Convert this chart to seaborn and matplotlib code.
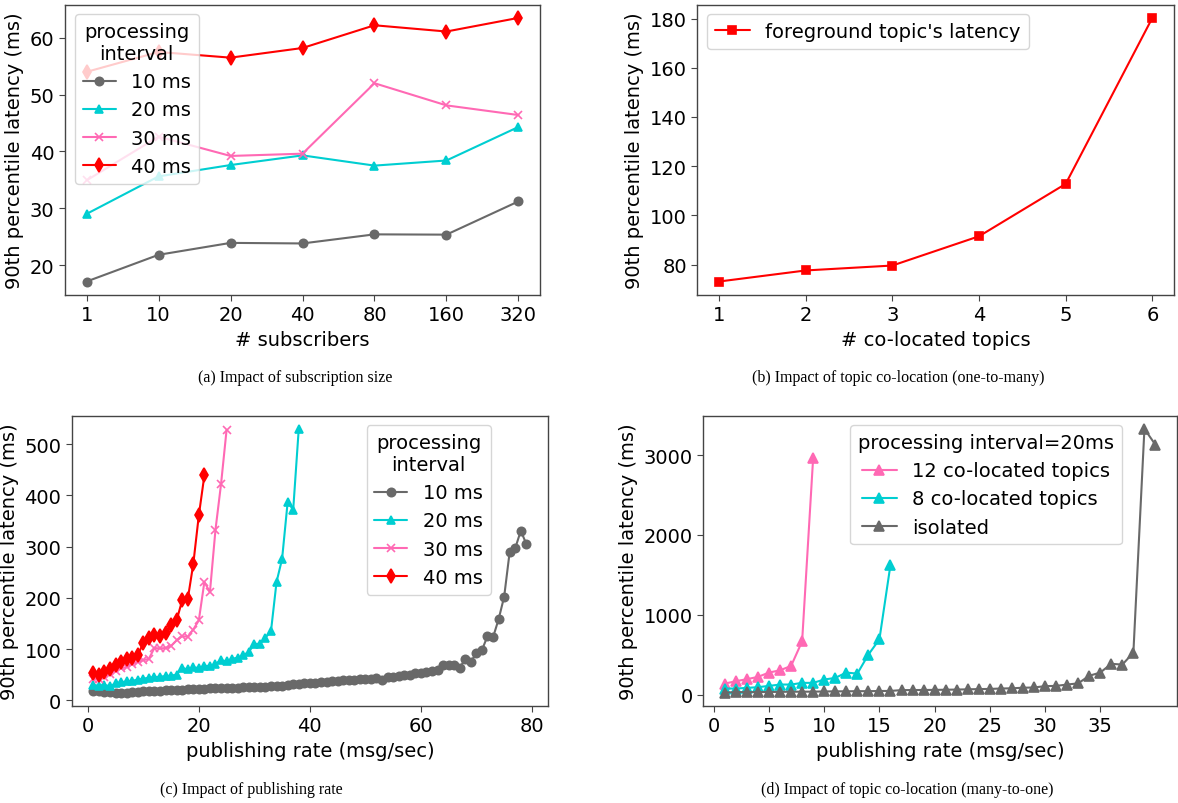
import numpy as np
import pandas as pd
import matplotlib
matplotlib.use("Agg")
import matplotlib.pyplot as plt
import seaborn as sns

sns.set_style("ticks")
plt.rcParams['font.family'] = ['DejaVu Sans']
plt.rcParams['font.size'] = 14
plt.rcParams['axes.edgecolor'] = '#444444'
plt.rcParams['xtick.color'] = '#444444'
plt.rcParams['ytick.color'] = '#444444'
plt.rcParams['xtick.labelcolor'] = 'black'
plt.rcParams['ytick.labelcolor'] = 'black'
plt.rcParams['axes.labelcolor'] = 'black'
plt.rcParams['text.color'] = 'black'

# ---------------- data ----------------
# (a) subscription size
subscribers = ["1", "10", "20", "40", "80", "160", "320"]
a_10ms = [17.1, 21.8, 23.9, 23.8, 25.4, 25.35, 31.2]
a_20ms = [29.0, 35.6, 37.6, 39.3, 37.5, 38.4, 44.3]
a_30ms = [34.9, 42.6, 39.2, 39.6, 52.0, 48.1, 46.4]
a_40ms = [54.0, 57.5, 56.5, 58.2, 62.2, 61.1, 63.5]

# (b) topic co-location (one-to-many)
colocated = [1, 2, 3, 4, 5, 6]
b_latency = [73.1, 77.6, 79.6, 91.5, 112.8, 180.3]

# (c) publishing rate
c_10ms = [17, 17, 16, 16, 15, 15, 15, 16, 16, 17, 17, 18, 18, 19, 19, 20, 20, 21, 22, 22,
          22, 23, 23, 23, 24, 24, 24, 25, 25, 25, 26, 26, 27, 27, 28, 30, 31, 32, 33, 34,
          34, 35, 36, 37, 38, 39, 40, 40, 41, 42, 42, 44, 40, 45, 46, 47, 49, 50, 53, 54,
          56, 57, 59, 68, 68, 68, 63, 81, 75, 92, 98, 125, 123, 158, 202, 290, 297, 331, 305]
c_20ms = [30, 28, 30, 27, 33, 35, 37, 38, 40, 42, 44, 45, 46, 47, 48, 50, 63, 60, 64, 63,
          67, 67, 71, 78, 76, 81, 83, 88, 94, 110, 110, 122, 135, 231, 276, 387, 372, 530]
c_30ms = [42, 41, 46, 52, 58, 62, 65, 70, 75, 78, 81, 102, 101, 102, 106, 117, 125, 124,
          138, 156, 231, 211, 333, 422, 528]
c_40ms = [54, 49, 56, 60, 68, 75, 81, 83, 88, 112, 122, 127, 125, 132, 146, 156, 195, 197,
          266, 361, 439]
rate_10 = list(range(1, 80))
rate_20 = list(range(1, 39))
rate_30 = list(range(1, 26))
rate_40 = list(range(1, 22))

# (d) topic co-location (many-to-one)
d_12topics = [137, 167, 192, 221, 275, 304, 358, 667, 2970]
d_8topics = [75, 75, 83, 92, 108, 125, 125, 146, 146, 188, 208, 275, 262, 500, 692, 1625]
d_isolated = [25, 30, 30, 30, 32, 33, 35, 35, 36, 38, 40, 40, 42, 42, 44, 45, 55, 56, 57, 58,
              60, 62, 65, 68, 70, 75, 78, 85, 88, 105, 108, 125, 140, 235, 275, 385, 375, 525,
              3330, 3130]
rate_d12 = list(range(1, 10))
rate_d8 = list(range(1, 17))
rate_diso = list(range(1, 41))

GRAY = '#696969'
CYAN = '#00CED1'
PINK = '#FF69B4'
RED = '#FF0000'

W, H = 1178, 804
fig = plt.figure(figsize=(W / 100, H / 100), dpi=100)


def add_ax(l, t, r, b):
    return fig.add_axes([l / W, 1 - b / H, (r - l) / W, (b - t) / H])


def line(ax, x, y, color, marker, label, ms=6):
    sns.lineplot(x=x, y=y, ax=ax, color=color, marker=marker, label=label,
                 markersize=ms, markeredgecolor=color, markeredgewidth=1.2,
                 linewidth=1.5, estimator=None, sort=False)


ax_a = add_ax(65, 5.7, 540, 295.7)
ax_b = add_ax(697.4, 5.7, 1174, 295.7)
ax_c = add_ax(71.7, 416.7, 548, 706.7)
ax_d = add_ax(703.3, 416.7, 1177, 706.7)

# (a)
pos = np.arange(len(subscribers))
line(ax_a, pos, a_10ms, GRAY, 'o', '10 ms')
line(ax_a, pos, a_20ms, CYAN, '^', '20 ms')
line(ax_a, pos, a_30ms, PINK, 'x', '30 ms')
line(ax_a, pos, a_40ms, RED, 'd', '40 ms', ms=7)
ax_a.set_xticks(pos)
ax_a.set_xticklabels(subscribers)
ax_a.set_yticks([20, 30, 40, 50, 60])
ax_a.set_xlabel('# subscribers')
ax_a.set_ylabel('90th percentile latency (ms)')
leg_a = ax_a.legend(title='processing\ninterval', loc='upper left', fontsize=14,
                    title_fontsize=14, handlelength=1.7, labelspacing=0.47,
                    alignment='center')
leg_a.get_title().set_multialignment('center')

# (b)
line(ax_b, colocated, b_latency, RED, 's', "foreground topic's latency", ms=6)
ax_b.set_xticks(colocated)
ax_b.set_yticks([80, 100, 120, 140, 160, 180])
ax_b.set_xlabel('# co-located topics')
ax_b.set_ylabel('90th percentile latency (ms)')
ax_b.legend(loc='upper left', fontsize=14, handlelength=1.8)

# (c)
line(ax_c, rate_10, c_10ms, GRAY, 'o', '10 ms')
line(ax_c, rate_20, c_20ms, CYAN, '^', '20 ms')
line(ax_c, rate_30, c_30ms, PINK, 'x', '30 ms')
line(ax_c, rate_40, c_40ms, RED, 'd', '40 ms', ms=7)
ax_c.set_xticks([0, 20, 40, 60, 80])
ax_c.set_yticks([0, 100, 200, 300, 400, 500])
ax_c.set_xlabel('publishing rate (msg/sec)')
ax_c.set_ylabel('90th percentile latency (ms)')
leg_c = ax_c.legend(title='processing\ninterval', loc='upper right', bbox_to_anchor=(0.90, 1.0),
                    fontsize=14, title_fontsize=14, handlelength=1.7, labelspacing=0.47,
                    alignment='center')
leg_c.get_title().set_multialignment('center')

# (d)
line(ax_d, rate_d12, d_12topics, PINK, '^', '12 co-located topics', ms=7)
line(ax_d, rate_d8, d_8topics, CYAN, '^', '8 co-located topics', ms=7)
line(ax_d, rate_diso, d_isolated, GRAY, '^', 'isolated', ms=7)
ax_d.set_xticks([0, 5, 10, 15, 20, 25, 30, 35])
ax_d.set_yticks([0, 1000, 2000, 3000])
ax_d.set_xlabel('publishing rate (msg/sec)')
ax_d.set_ylabel('90th percentile latency (ms)')
ax_d.legend(title='processing interval=20ms', loc='upper left', bbox_to_anchor=(0.29, 1.0),
            fontsize=14, title_fontsize=14, handlelength=1.8, labelspacing=0.47)

for ax in (ax_a, ax_b, ax_c, ax_d):
    for s in ax.spines.values():
        s.set_visible(True)
        s.set_linewidth(1.0)
    ax.tick_params(labelsize=14, length=4)

cap = dict(family='Liberation Serif', fontsize=11.5, ha='center', va='center')
fig.text(295 / W, 1 - 378 / H, '(a) Impact of subscription size', **cap)
fig.text(898 / W, 1 - 378 / H, '(b) Impact of topic co-location (one-to-many)', **cap)
fig.text(251 / W, 1 - 790 / H, '(c) Impact of publishing rate', **cap)
fig.text(907 / W, 1 - 790 / H, '(d) Impact of topic co-location (many-to-one)', **cap)

fig.savefig('out.png', dpi=100)
